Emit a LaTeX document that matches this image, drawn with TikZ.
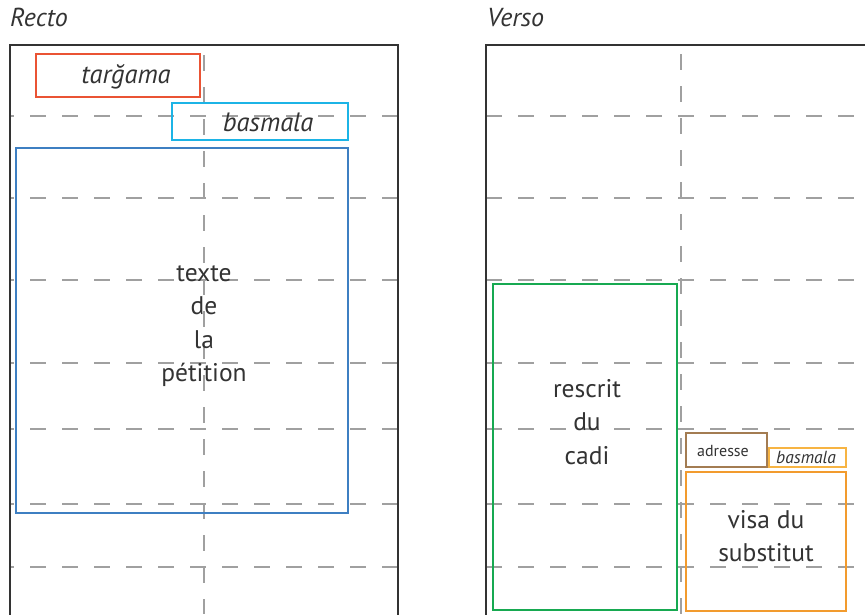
\documentclass[tikz,border=0pt]{standalone}
\usepackage{fontspec}
\setmainfont{PT Sans}
\usetikzlibrary{positioning}
\definecolor{noir}{HTML}{333333}
\definecolor{gris}{HTML}{A0A0A0}
\definecolor{rouge}{HTML}{EA5334}
\definecolor{cyan}{HTML}{1CB4E6}
\definecolor{bleu}{HTML}{3E7FC2}
\definecolor{vert}{HTML}{17A951}
\definecolor{brun}{HTML}{A37C52}
\definecolor{orange}{HTML}{F29B2E}
\definecolor{orangeclair}{HTML}{F7B443}
\tikzset{
  cadre/.style={line width=2.8pt,color=noir},
  pli/.style={line width=1.3pt,color=gris,dash pattern=on 16pt off 16pt},
  zone/.style={draw=#1,line width=2.5pt,inner sep=0pt},
  texte/.style={text=noir,align=center,inner sep=0pt,font=\fontsize{25.5}{33.3}\selectfont},
  titre/.style={text=noir,inner sep=0pt,anchor=base west,font=\fontsize{26}{30}\selectfont\itshape}
}
\begin{document}
\begin{tikzpicture}[line cap=butt,line join=miter,x=1pt,y=-1pt]
\clip (0,0) rectangle (865,614);
\useasboundingbox (0,0) rectangle (865,614);
%%%% TITRES
\node[titre] (recto) at (10,26) {Recto};
\node[titre] (verso) at (487,26) {Verso};
%%%% PLIS
\foreach \y in {116,198,280,363,429,504,567}{
  \draw[pli,dash phase=12pt] (10,\y) -- (398,\y);
  \draw[pli] (486,\y) -- (856,\y);
}
\draw[pli] (204,55) -- (204,614);
\draw[pli] (681,54) -- (681,614);
%%%% FEUILLETS
\draw[cadre] (10,616) -- (10,45) -- (398,45) -- (398,616);
\draw[cadre] (486,616) -- (486,45) -- (870,45);
%%%% RECTO
\node[zone=rouge,minimum width=164pt,minimum height=43pt] (targama) at (118,75.5) {};
\node[texte,anchor=base,font=\fontsize{26.5}{30}\selectfont\itshape] (targama-txt) at (126,83) {tarğama};
\node[zone=cyan,minimum width=176pt,minimum height=37pt] (basmala) at (260,121.5) {};
\node[texte,anchor=base,font=\fontsize{26.5}{30}\selectfont\itshape] (basmala-txt) at (268,131) {basmala};
\node[zone=bleu,minimum width=332pt,minimum height=365pt] (petition) at (182,330.5) {};
\node[texte] (petition-txt) at (204,326) {texte\\de\\la\\pétition};
%%%% VERSO
\node[zone=vert,minimum width=184pt,minimum height=326pt] (rescrit) at (585,447) {};
\node[texte] (rescrit-txt) at (587,422) {rescrit\\du\\cadi};
\node[zone=brun,minimum width=81pt,minimum height=34pt] (adresse) at (726.5,450) {};
\node[texte,anchor=base,font=\fontsize{16}{18}\selectfont] (adresse-txt) at (723,456) {adresse};
\node[zone=orangeclair,minimum width=77pt,minimum height=19pt] (basmala2) at (807.5,457.5) {};
\node[texte,anchor=base,font=\fontsize{17.5}{20}\selectfont\itshape] (basmala2-txt) at (806,463) {basmala};
\node[zone=orange,minimum width=160pt,minimum height=139pt] (visa) at (766,541.5) {};
\node[texte] (visa-txt) at (766,536) {visa du\\substitut};
\end{tikzpicture}
\end{document}
